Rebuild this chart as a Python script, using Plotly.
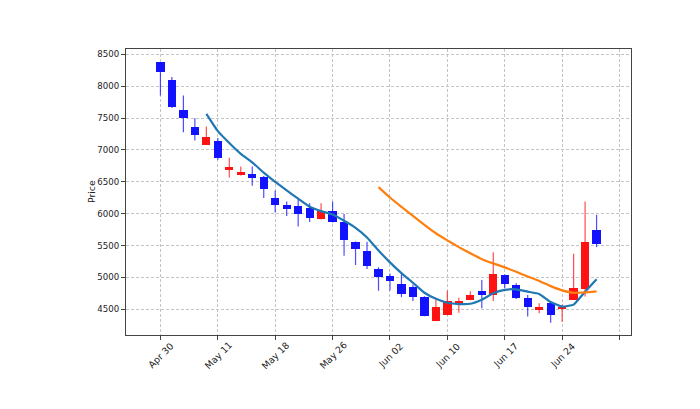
import pandas as pd
import plotly.graph_objects as go

# daily candles, one per trading day (x is the bar index, like mplfinance)
opens = [8381, 8100, 7620, 7360, 7085, 7144, 6690, 6612, 6620, 6583,
         6250, 6140, 6125, 6095, 5910, 6040, 5867, 5560, 5410, 5130,
         5023, 4903, 4850, 4700, 4312, 4410, 4594, 4642, 4792, 4725,
         5039, 4882, 4683, 4490, 4594, 4505, 4647, 4820, 5746]
highs = [8381, 8145, 7856, 7500, 7370, 7190, 6880, 6740, 6740, 6590,
         6365, 6190, 6235, 6165, 6165, 6190, 5995, 5565, 5560, 5160,
         5060, 5050, 4890, 4705, 4655, 4790, 4680, 4783, 4960, 5395,
         5045, 4910, 4725, 4594, 4600, 4570, 5370, 6190, 5982]
lows = [7856, 7660, 7280, 7150, 7080, 6845, 6570, 6600, 6440, 6245,
        6020, 5965, 5800, 5870, 5908, 5860, 5340, 5195, 5130, 4790,
        4795, 4690, 4630, 4390, 4310, 4405, 4447, 4640, 4515, 4630,
        4830, 4660, 4385, 4437, 4290, 4305, 4645, 4700, 5475]
closes = [8223, 7667, 7501, 7238, 7200, 6872, 6740, 6650, 6568, 6390,
          6140, 6080, 6000, 5940, 6040, 5872, 5590, 5450, 5185, 5012,
          4945, 4741, 4698, 4400, 4541, 4635, 4635, 4720, 4720, 5050,
          4898, 4673, 4541, 4541, 4411, 4541, 4830, 5553, 5526]

tick_pos = [0, 5, 10, 15, 20, 25, 30, 35, 40]
tick_text = ["Apr 30", "May 11", "May 18", "May 26", "Jun 02",
             "Jun 10", "Jun 17", "Jun 24", ""]
mav_windows = [5, 20]
mav_colors = ["#1f77b4", "#ff7f0e"]

UP = "rgb(255,18,18)"
DOWN = "rgb(18,18,255)"
FONT = dict(family="DejaVu Sans", size=8.6, color="#222")
XFONT = dict(family="DejaVu Sans", size=9.3, color="#222")

df = pd.DataFrame({"Open": opens, "High": highs, "Low": lows, "Close": closes})
df["x"] = range(len(df))
df["up"] = df["Close"] >= df["Open"]

fig = go.Figure()

# wicks first, bodies drawn over them
for is_up, col in [(True, UP), (False, DOWN)]:
    sub = df[df["up"] == is_up]
    wx, wy = [], []
    for _, r in sub.iterrows():
        wx += [r["x"], r["x"], None]
        wy += [r["Low"], r["High"], None]
    fig.add_trace(go.Scatter(x=wx, y=wy, mode="lines",
                             line=dict(color=col, width=1.2),
                             opacity=0.75, hoverinfo="skip",
                             showlegend=False))

fig.add_trace(go.Bar(x=df["x"],
                     y=(df["Close"] - df["Open"]).abs(),
                     base=df[["Open", "Close"]].min(axis=1),
                     width=0.72,
                     marker=dict(color=[UP if u else DOWN for u in df["up"]],
                                 line=dict(width=0)),
                     showlegend=False))

# moving averages of the close, as mplfinance mav=(5, 20)
for win, col in zip(mav_windows, mav_colors):
    ma = df["Close"].rolling(win).mean()
    fig.add_trace(go.Scatter(x=df["x"], y=ma, mode="lines",
                             line=dict(color=col, width=2.2, shape="spline",
                                       smoothing=0.4),
                             showlegend=False))

axis_style = dict(showline=True, mirror=True, linecolor="#444", linewidth=1.2,
                  ticks="outside", ticklen=4, tickcolor="#444",
                  showgrid=True, gridcolor="#c4c4c4", gridwidth=0.8,
                  griddash="3px,2px", zeroline=False, tickfont=FONT)

# x labels are centred on their ticks (matplotlib style), so they are
# placed as rotated annotations instead of plotly tick labels
fig.update_xaxes(range=[-3.0, 41.0], tickvals=tick_pos, showticklabels=False,
                 **axis_style)
fig.update_yaxes(range=[4096, 8585], dtick=500, tick0=4500, **axis_style)

for pos, txt in zip(tick_pos, tick_text):
    if txt:
        fig.add_annotation(x=pos, y=0, xref="x", yref="paper", text=txt,
                           textangle=-45, showarrow=False,
                           xanchor="center", yanchor="middle",
                           yshift=-20, font=XFONT)

fig.add_annotation(x=0, y=0.5, xref="paper", yref="paper", text="Price",
                   textangle=-90, showarrow=False, xanchor="center",
                   yanchor="middle", xshift=-35, font=XFONT)

# page body adds an 8px offset, so margins are trimmed to match the original frame
fig.update_layout(width=700, height=409,
                  margin=dict(l=118, r=77, t=41, b=82),
                  paper_bgcolor="white", plot_bgcolor="white",
                  bargap=0, showlegend=False)

fig.write_html("out.html", config={"displayModeBar": False})
